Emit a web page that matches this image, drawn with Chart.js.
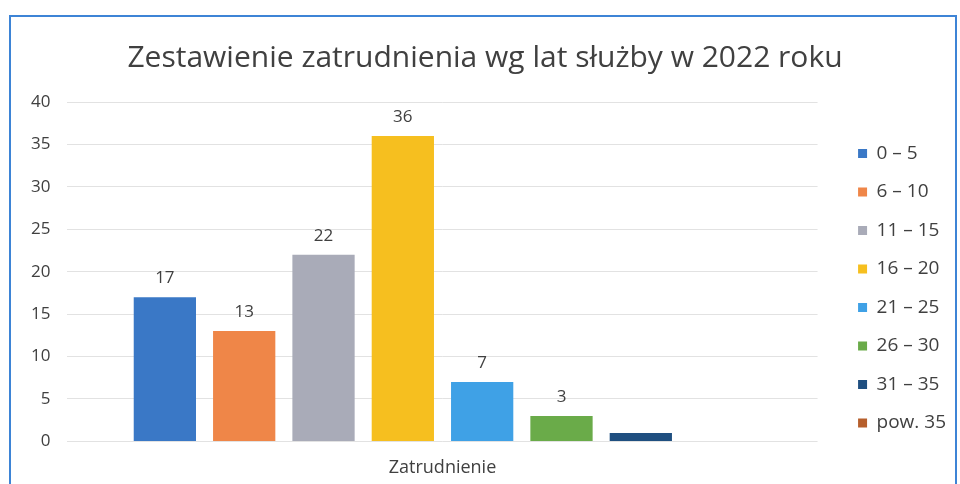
<!DOCTYPE html>
<html lang="pl">
<head>
<meta charset="utf-8">
<title>Zestawienie zatrudnienia</title>
<script src="https://cdn.jsdelivr.net/npm/chart.js@4/dist/chart.umd.min.js"></script>
<style>
  html, body { margin: 0; padding: 0; background: #ffffff; overflow: hidden; }
  #frame {
    position: absolute; left: 9px; top: 15px;
    width: 944px; height: 480px;
    border: 2px solid #3d84d6;
    background: #ffffff;
  }
  #chart { display: block; }
</style>
</head>
<body>
<div id="frame"><canvas id="chart" width="944" height="480"></canvas></div>
<script>
/* ===================================================
   Zatrudnienie wg lat służby — dane
   =================================================== */

// --- Data ---
const categories = ["Zatrudnienie"];
const seriesNames = ["0 \u2013 5", "6 \u2013 10", "11 \u2013 15", "16 \u2013 20", "21 \u2013 25", "26 \u2013 30", "31 \u2013 35", "pow. 35"];
const seriesValues = [17, 13, 22, 36, 7, 3, 1, 0];
const showValue = [true, true, true, true, true, true, false, false];
const seriesColors = ["#3a78c6", "#ef8648", "#a9abb8", "#f6bf1f", "#3fa1e6", "#6aab49", "#1f4f80", "#b65f2c"];
const yTicks = [0, 5, 10, 15, 20, 25, 30, 35, 40];

const FONT = "'Open Sans', sans-serif";
const TEXT = "#404040";

// --- Build datasets ---
const datasets = seriesNames.map(function (name, i) {
    return {
        label: name,
        data: [seriesValues[i]],
        yAxisID: "y",
        backgroundColor: seriesColors[i],
        borderWidth: 0,
        categoryPercentage: 0.846,
        barPercentage: 0.785,
    };
});

// ===================================================
// Value labels above bars
// ===================================================
const valueLabels = {
    id: "valueLabels",
    afterDatasetsDraw: function (chart) {
        const ctx = chart.ctx;
        ctx.save();
        ctx.font = "17px " + FONT;
        ctx.fillStyle = TEXT;
        ctx.textAlign = "center";
        ctx.textBaseline = "bottom";
        chart.data.datasets.forEach(function (ds, i) {
            if (!showValue[i]) return;
            const bar = chart.getDatasetMeta(i).data[0];
            ctx.fillText(String(ds.data[0]), bar.x, bar.y - 10);
        });
        ctx.restore();
    },
};

const ctx = document.getElementById("chart").getContext("2d");
new Chart(ctx, {
    type: "bar",
    data: { labels: categories, datasets: datasets },
    options: {
        responsive: false,
        animation: false,
        layout: { padding: { left: 3, right: -1, top: 23, bottom: 10 } },
        plugins: {
            title: {
                display: true,
                text: "Zestawienie zatrudnienia wg lat s\u0142u\u017Cby w 2022 roku",
                color: TEXT,
                font: { family: FONT, size: 30, weight: "normal" },
                padding: { top: 0, bottom: 26 },
            },
            legend: {
                position: "right",
                align: "start",
                title: { display: true, text: "", padding: 35 },
                labels: {
                    boxWidth: 9,
                    boxHeight: 9,
                    padding: 19.5,
                    color: TEXT,
                    font: { family: FONT, size: 19 },
                },
            },
            tooltip: { enabled: false },
        },
        scales: {
            x: {
                grid: { display: false },
                border: { display: false },
                ticks: { color: TEXT, font: { family: FONT, size: 18 }, padding: 8 },
            },
            y: {
                min: 0,
                max: 40,
                afterBuildTicks: function (axis) {
                    axis.ticks = yTicks.map(function (v) { return { value: v }; });
                },
                grid: { color: "#e2e2e2", drawTicks: false },
                border: { display: false },
                ticks: { color: TEXT, font: { family: FONT, size: 17 }, padding: 17 },
            },
            // empty right-hand axis: space between plot and legend
            gap: {
                position: "right",
                grid: { display: false },
                border: { display: false },
                ticks: { display: false },
                afterFit: function (axis) { axis.width = 21; },
            },
        },
    },
    plugins: [valueLabels],
});
</script>
</body>
</html>
